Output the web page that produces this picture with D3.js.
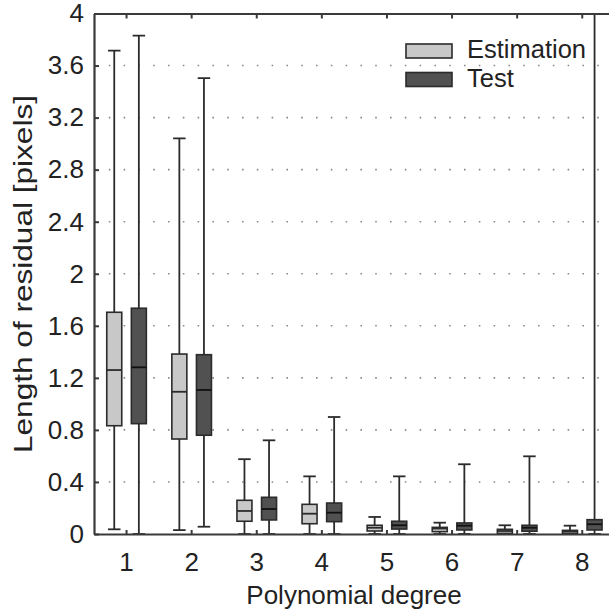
<!DOCTYPE html>
<html><head><meta charset="utf-8">
<script src="https://cdn.jsdelivr.net/npm/d3@7"></script>
<style>body{margin:0;background:#fff}svg{display:block}text{font-family:"Liberation Sans",Arial,sans-serif;fill:#222}</style>
</head><body><svg id="c" width="609" height="616"></svg>
<script>
const categories = ["1","2","3","4","5","6","7","8"];
const seriesNames = ["Estimation","Test"];
// each entry: [min, q1, median, q3, max]
const estimation = [
  [0.036,0.832,1.26,1.704,3.715],
  [0.03,0.73,1.093,1.383,3.041],
  [0,0.098,0.177,0.259,0.575],
  [0,0.079,0.156,0.228,0.443],
  [0,0.023,0.048,0.067,0.131],
  [0,0.018,0.042,0.051,0.087],
  [0,0.004,0.023,0.036,0.067],
  [0,0.004,0.019,0.028,0.064]
];
const test = [
  [0,0.848,1.281,1.735,3.83],
  [0.056,0.759,1.107,1.378,3.503],
  [0,0.108,0.192,0.282,0.72],
  [0,0.095,0.164,0.238,0.899],
  [0,0.038,0.067,0.098,0.443],
  [0,0.031,0.064,0.085,0.536],
  [0,0.021,0.048,0.067,0.597],
  [0,0.031,0.075,0.11,4.3]
];
const yTicks = [0,0.4,0.8,1.2,1.6,2,2.4,2.8,3.2,3.6,4];
const fills = {"Estimation":"#c8c8c8","Test":"#515151"};

const svg = d3.select("#c");
const L = 94, R = 614.8, T = 13.5, B = 534;
const x = d3.scaleBand().domain(categories).range([L,R]).padding(0);
const off = d3.scalePoint().domain(seriesNames).range([-12.3,12.3]);
const y = d3.scaleLinear().domain([0,4]).range([B,T]);
const boxW = 15, capW = 12.5;

svg.append("defs").append("clipPath").attr("id","clip")
  .append("rect").attr("x",L).attr("y",T).attr("width",R-L).attr("height",B-T);

// grid
svg.append("g").selectAll("line").data(yTicks.filter(d=>d>0&&d<4)).join("line")
  .attr("x1",L).attr("x2",R).attr("y1",d=>y(d)).attr("y2",d=>y(d))
  .attr("stroke","#8a8a8a").attr("stroke-width",1.6).attr("stroke-dasharray","1.6,13.2");

const plot = svg.append("g").attr("clip-path","url(#clip)");
const data = [];
categories.forEach((c,i)=>{
  data.push({c, s:"Estimation", v:estimation[i]});
  data.push({c, s:"Test", v:test[i]});
});
const g = plot.selectAll("g.box").data(data).join("g").attr("class","box")
  .attr("transform",d=>`translate(${x(d.c)+x.bandwidth()/2+off(d.s)},0)`);
const stroke = "#2b2b2b";
// whiskers
g.append("line").attr("x1",0).attr("x2",0).attr("y1",d=>y(d.v[0])).attr("y2",d=>y(d.v[1]))
  .attr("stroke",stroke).attr("stroke-width",1.8);
g.append("line").attr("x1",0).attr("x2",0).attr("y1",d=>y(d.v[3])).attr("y2",d=>y(d.v[4]))
  .attr("stroke",stroke).attr("stroke-width",1.8);
// caps
g.append("line").attr("x1",-capW/2).attr("x2",capW/2).attr("y1",d=>y(d.v[0])).attr("y2",d=>y(d.v[0]))
  .attr("stroke",stroke).attr("stroke-width",1.8);
g.append("line").attr("x1",-capW/2).attr("x2",capW/2).attr("y1",d=>y(d.v[4])).attr("y2",d=>y(d.v[4]))
  .attr("stroke",stroke).attr("stroke-width",1.8);
// box
g.append("rect").attr("x",-boxW/2).attr("width",boxW)
  .attr("y",d=>y(d.v[3])).attr("height",d=>Math.max(1,y(d.v[1])-y(d.v[3])))
  .attr("fill",d=>fills[d.s]).attr("stroke",stroke).attr("stroke-width",1.6);
// median
g.append("line").attr("x1",-boxW/2).attr("x2",boxW/2).attr("y1",d=>y(d.v[2])).attr("y2",d=>y(d.v[2]))
  .attr("stroke",d=>d.s==="Test"?"#111":"#2b2b2b").attr("stroke-width",1.8);

// axes
const axisColor = "#3a3a3a";
const yAxis = svg.append("g").attr("transform",`translate(${L},0)`)
  .call(d3.axisLeft(y).tickValues(yTicks).tickSize(-5).tickSizeOuter(0).tickPadding(10).tickFormat(d=>String(d)));
const xAxis = svg.append("g").attr("transform",`translate(0,${B})`)
  .call(d3.axisBottom(x).tickSize(-4).tickSizeOuter(0).tickPadding(19));
const topAxis = svg.append("g").attr("transform",`translate(0,${T})`)
  .call(d3.axisTop(x).tickSize(-5).tickSizeOuter(0).tickFormat(""));
[yAxis,xAxis,topAxis].forEach(a=>{
  a.select(".domain").attr("stroke",axisColor).attr("stroke-width",2.2);
  a.selectAll(".tick line").attr("stroke",axisColor).attr("stroke-width",2);
  a.selectAll("text").attr("font-size",26).attr("fill","#222").style("font-family","'Liberation Sans',Arial,sans-serif");
});

// axis titles
svg.append("text").attr("x",354).attr("y",604).attr("text-anchor","middle")
  .attr("font-size",26).text("Polynomial degree");
svg.append("text").attr("transform","translate(32,274) rotate(-90)").attr("text-anchor","middle")
  .attr("font-size",25).attr("textLength",358).attr("lengthAdjust","spacingAndGlyphs")
  .text("Length of residual [pixels]");

// legend
const leg = svg.append("g").selectAll("g").data(seriesNames).join("g")
  .attr("transform",(d,i)=>`translate(406,${44+i*28.5})`);
leg.append("rect").attr("width",46).attr("height",14).attr("fill",d=>fills[d])
  .attr("stroke",stroke).attr("stroke-width",1.6);
leg.append("text").attr("x",61).attr("y",14.3).attr("font-size",25.5).text(d=>d);
</script></body></html>
